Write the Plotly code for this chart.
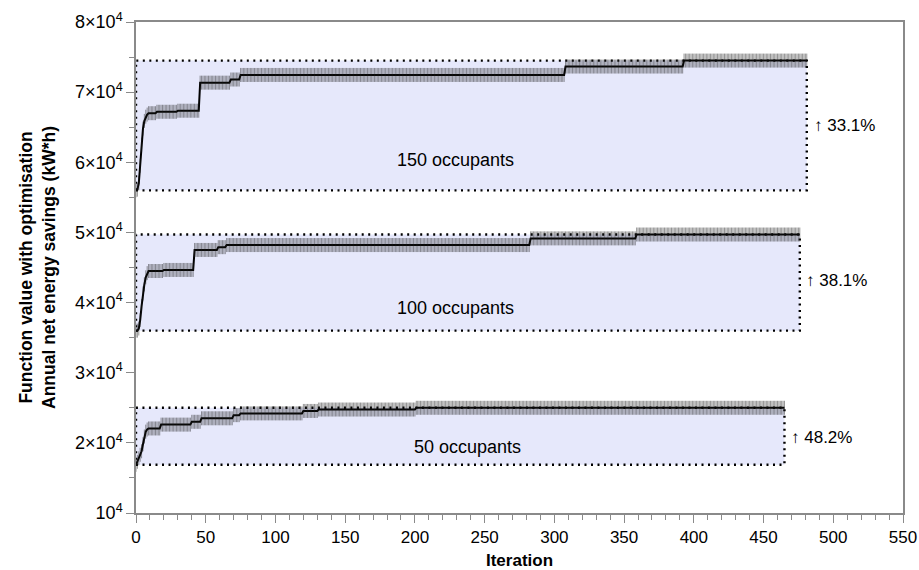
import plotly.graph_objects as go

# ---- data: best-so-far values (step changes) per run ----
# iteration at which each new best value was reached, and that value
it_150 = [0, 1, 2, 3, 4, 5, 6, 7, 8, 9, 15, 30, 46, 68, 75, 308, 393]
val_150 = [56000, 56100, 57000, 59500, 62500, 64800, 65900, 66500, 66800, 67000, 67200, 67350,
           71350, 71800, 72450, 73650, 74500]
last_150 = 481

it_100 = [0, 1, 2, 3, 4, 5, 6, 7, 8, 9, 20, 42, 59, 65, 283, 359]
val_100 = [36000, 36000, 36300, 37500, 39500, 41300, 42600, 43600, 44200, 44500, 44650,
           47500, 47900, 48200, 49150, 49700]
last_100 = 476

it_50 = [0, 1, 2, 3, 4, 5, 6, 7, 8, 9, 18, 40, 47, 70, 75, 120, 131, 201]
val_50 = [16870, 17300, 17800, 18300, 18800, 19800, 20900, 21600, 21900, 22050, 22600,
          23000, 23500, 23950, 24200, 24550, 24750, 25000]
last_50 = 465

labels = ["150 occupants", "100 occupants", "50 occupants"]
gains = ["↑ 33.1%", "↑ 38.1%", "↑ 48.2%"]
box_bottom = [56000, 36000, 16870]
box_top = [74500, 49700, 25000]
box_right = [481, 476, 465]
label_y = [60300, 39200, 19400]
label_x = [229, 229, 238]
gain_x = [485, 479, 468]
gain_y = [65300, 43200, 20700]

ytick_vals = [10000, 20000, 30000, 40000, 50000, 60000, 70000, 80000]
ytick_text = ["10<sup>4</sup>", "2×10<sup>4</sup>", "3×10<sup>4</sup>", "4×10<sup>4</sup>",
              "5×10<sup>4</sup>", "6×10<sup>4</sup>", "7×10<sup>4</sup>", "8×10<sup>4</sup>"]


def expand(its, vals, last):
    xs, ys = [], []
    k = 0
    for i in range(last + 1):
        while k + 1 < len(its) and its[k + 1] <= i:
            k += 1
        xs.append(i)
        ys.append(vals[k])
    return xs, ys


fig = go.Figure()

# boxes
for b, t, r in zip(box_bottom, box_top, box_right):
    fig.add_shape(type="rect", x0=0, x1=r, y0=b, y1=t, xref="x", yref="y",
                  fillcolor="rgb(230,232,251)", line=dict(color="black", width=2.4, dash="2px,4.5px"),
                  layer="below")

for its, vals, last in [(it_150, val_150, last_150), (it_100, val_100, last_100), (it_50, val_50, last_50)]:
    xs, ys = expand(its, vals, last)
    fig.add_trace(go.Scatter(
        x=xs, y=ys, mode="lines+markers",
        line=dict(color="black", width=2),
        marker=dict(symbol="line-ns", size=10, line=dict(color="rgba(30,30,30,0.6)", width=0.8)),
        showlegend=False, hoverinfo="skip"))

for lx, ly, txt in zip(label_x, label_y, labels):
    fig.add_annotation(x=lx, y=ly, text=txt, showarrow=False, xanchor="center",
                       font=dict(size=18, color="black"))
for gx, gy, txt in zip(gain_x, gain_y, gains):
    fig.add_annotation(x=gx, y=gy, text=txt, showarrow=False, xanchor="left",
                       font=dict(size=17, color="black"))

fig.update_layout(
    width=919, height=570,
    margin=dict(l=136, r=16, t=22, b=57),
    plot_bgcolor="white", paper_bgcolor="white",
    font=dict(family="Liberation Sans, Arial, sans-serif", color="black", size=16),
)
fig.update_xaxes(range=[0, 550], tickmode="linear", tick0=0, dtick=50, automargin=False,
                 showgrid=False, zeroline=False, showline=True, linecolor="#8a8a8a", linewidth=1.5,
                 mirror=True, ticks="outside", ticklen=8, tickcolor="#8a8a8a",
                 minor=dict(dtick=10, ticks="outside", ticklen=5, tickcolor="#8a8a8a", showgrid=False),
                 tickfont=dict(size=17),
                 title=dict(text="<b>Iteration</b>", font=dict(size=17)))
fig.update_yaxes(range=[10000, 80000], tickmode="array", tickvals=ytick_vals, ticktext=ytick_text,
                 automargin=False,
                 showgrid=False, zeroline=False, showline=True, linecolor="#8a8a8a", linewidth=1.5,
                 mirror=True, ticks="outside", ticklen=8, tickcolor="#8a8a8a",
                 minor=dict(dtick=5000, ticks="outside", ticklen=5, tickcolor="#8a8a8a", showgrid=False),
                 tickfont=dict(size=18),
                 title=dict(text="<b>Function value with optimisation<br>Annual net energy savings (kW*h)</b>",
                            font=dict(size=17.5)))

fig.write_html("out.html", config={"displayModeBar": False},
               post_script="document.body.style.margin='0';document.body.style.overflow='hidden';")
